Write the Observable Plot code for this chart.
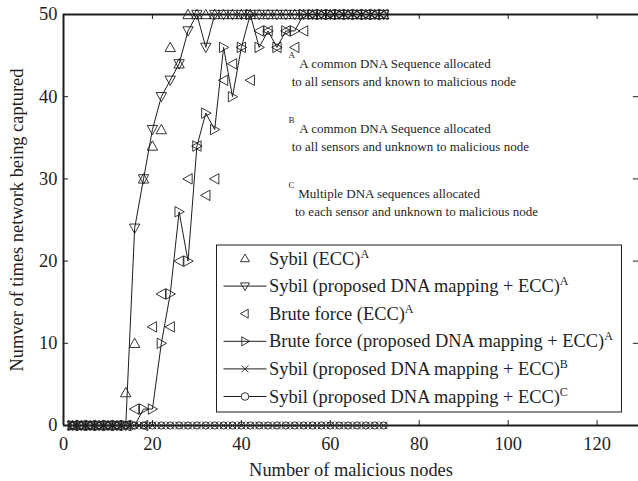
<!DOCTYPE html>
<html><head><meta charset="utf-8">
<script src="https://cdn.jsdelivr.net/npm/d3@7"></script>
<script src="https://cdn.jsdelivr.net/npm/@observablehq/plot@0.6"></script>
<style>
body{margin:0;background:#fff}
#wrap{position:relative;width:638px;height:481px;overflow:hidden}
#over{position:absolute;left:0;top:0;pointer-events:none}
</style>
</head><body><div id="wrap"></div>
<script>
const nodes = [2,4,6,8,10,12,14,16,18,20,22,24,26,28,30,32,34,36,38,40,42,44,46,48,50,52,54,56,58,60,62,64,66,68,70,72];
const sybilEcc  = [0,0,0,0,0,0,4,10,30,34,36,46,44,50,50,50,50,50,50,50,50,50,50,50,50,50,50,50,50,50,50,50,50,50,50,50];
const sybilDna  = [0,0,0,0,0,0,0,24,30,36,40,42,44,48,50,46,50,50,50,50,50,50,50,50,50,50,50,50,50,50,50,50,50,50,50,50];
const bruteEcc  = [0,0,0,0,0,0,0,2,0,12,16,12,20,30,34,28,30,42,44,46,42,48,48,46,48,46,48,50,50,50,50,50,50,50,50,50];
const bruteDna  = [0,0,0,0,0,0,0,0,2,2,10,16,26,20,34,38,36,46,40,46,50,46,48,46,48,48,50,50,50,50,50,50,50,50,50,50];
const sybilDnaB = [0,0,0,0,0,0,0,0,0,0,0,0,0,0,0,0,0,0,0,0,0,0,0,0,0,0,0,0,0,0,0,0,0,0,0,0];
const sybilDnaC = [0,0,0,0,0,0,0,0,0,0,0,0,0,0,0,0,0,0,0,0,0,0,0,0,0,0,0,0,0,0,0,0,0,0,0,0];
const xTicks = [0,20,40,60,80,100,120];
const yTicks = [0,10,20,30,40,50];
const seriesNames = [
  ["Sybil (ECC)","A"],
  ["Sybil (proposed DNA mapping + ECC)","A"],
  ["Brute force (ECC)","A"],
  ["Brute force (proposed DNA mapping + ECC)","A"],
  ["Sybil (proposed DNA mapping + ECC)","B"],
  ["Sybil (proposed DNA mapping + ECC)","C"]
];
const notes = [
  ["A","A common DNA Sequence allocated","to all sensors and known to malicious node"],
  ["B","A common DNA Sequence allocated","to all sensors and unknown to malicious node"],
  ["C","Multiple DNA sequences allocated","to each sensor and unknown to malicious node"]
];

const INK = "#1e1e1e";
const FONT = "Liberation Serif";
const xMax = 129.3;
const rows = ys => nodes.map((x, i) => ({x, y: ys[i]}));

function tri(dir) {
  return {draw(ctx, size) {
    const r = Math.sqrt(size / Math.PI), a = 0.8 * r;
    if (dir === "up") { ctx.moveTo(0, -r); ctx.lineTo(r, a); ctx.lineTo(-r, a); }
    else if (dir === "down") { ctx.moveTo(0, r); ctx.lineTo(r, -a); ctx.lineTo(-r, -a); }
    else if (dir === "left") { ctx.moveTo(-r, 0); ctx.lineTo(a, -r); ctx.lineTo(a, r); }
    else { ctx.moveTo(r, 0); ctx.lineTo(-a, -r); ctx.lineTo(-a, r); }
    ctx.closePath();
  }};
}
const symbols = [tri("up"), tri("down"), tri("left"), tri("right"), "times", "circle"];
const radii = [5.2, 5.2, 5.2, 5.2, 3.6, 3.6];
const hasLine = [false, true, false, true, true, true];
const allSeries = [sybilEcc, sybilDna, bruteEcc, bruteDna, sybilDnaB, sybilDnaC];

const marks = [];
allSeries.forEach((s, k) => {
  if (hasLine[k]) marks.push(Plot.line(rows(s), {x: "x", y: "y", stroke: INK, strokeWidth: 1}));
});
allSeries.forEach((s, k) => {
  marks.push(Plot.dot(rows(s), {x: "x", y: "y", symbol: () => symbols[k], r: radii[k], stroke: INK, strokeWidth: 0.9, fill: "none"}));
});

const chart = Plot.plot({
  width: 638, height: 481,
  marginLeft: 63, marginRight: 0, marginTop: 14, marginBottom: 56,
  style: {fontFamily: FONT, fontSize: "18.4px", color: INK, background: "#fff", overflow: "visible"},
  x: {domain: [0, xMax]},
  y: {domain: [0, 50]},
  marks: [
    Plot.axisX({ticks: xTicks, tickSize: 0, tickPadding: 11, fontSize: 18.4, fontFamily: FONT,
      label: "Number of malicious nodes", labelAnchor: "center", labelOffset: 50, labelArrow: "none"}),
    Plot.axisY({ticks: yTicks, tickSize: 0, tickPadding: 6, fontSize: 18.4, fontFamily: FONT,
      label: "Numver of times network being captured", labelAnchor: "center", labelOffset: 54, labelArrow: "none"}),
    Plot.ruleX(xTicks, {x: d => d, y1: 0, y2: 0.6, stroke: INK, strokeWidth: 1}),
    Plot.ruleX(xTicks, {x: d => d, y1: 50, y2: 49.4, stroke: INK, strokeWidth: 1}),
    Plot.ruleY(yTicks, {y: d => d, x1: 0, x2: 1.15, stroke: INK, strokeWidth: 1}),
    Plot.ruleY(yTicks, {y: d => d, x1: xMax, x2: xMax - 1.15, stroke: INK, strokeWidth: 1}),
    ...marks,
    Plot.ruleY([0, 50], {stroke: INK, strokeWidth: 2}),
    Plot.ruleX([0], {stroke: INK, strokeWidth: 2})
  ]
});
document.getElementById("wrap").appendChild(chart);

// legend & notes overlay
const ns = "http://www.w3.org/2000/svg";
const over = document.createElementNS(ns, "svg");
over.setAttribute("id", "over");
over.setAttribute("width", 638); over.setAttribute("height", 481);
let html = "";
const bx = 216.5, by = 245, bw = 405, bh = 167;
html += `<rect x="${bx}" y="${by}" width="${bw}" height="${bh}" fill="#fff" stroke="${INK}" stroke-width="1"/>`;
const shapes = [
  (cx, cy) => `<path d="M${cx},${cy-4.5}L${cx+4.5},${cy+3.2}L${cx-4.5},${cy+3.2}Z" fill="none" stroke="${INK}" stroke-width="0.9"/>`,
  (cx, cy) => `<path d="M${cx},${cy+4.5}L${cx+4.5},${cy-3.2}L${cx-4.5},${cy-3.2}Z" fill="none" stroke="${INK}" stroke-width="0.9"/>`,
  (cx, cy) => `<path d="M${cx-4.5},${cy}L${cx+3.2},${cy-4.5}L${cx+3.2},${cy+4.5}Z" fill="none" stroke="${INK}" stroke-width="0.9"/>`,
  (cx, cy) => `<path d="M${cx+4.5},${cy}L${cx-3.2},${cy-4.5}L${cx-3.2},${cy+4.5}Z" fill="none" stroke="${INK}" stroke-width="0.9"/>`,
  (cx, cy) => `<path d="M${cx-3.5},${cy-3.5}L${cx+3.5},${cy+3.5}M${cx-3.5},${cy+3.5}L${cx+3.5},${cy-3.5}" stroke="${INK}" stroke-width="0.9"/>`,
  (cx, cy) => `<circle cx="${cx}" cy="${cy}" r="3.8" fill="#fff" stroke="${INK}" stroke-width="0.9"/>`
];
seriesNames.forEach(([name, sup], k) => {
  const cy = by + 13.5 + k * 27.6;
  if (hasLine[k]) html += `<line x1="${bx+7}" x2="${bx+50}" y1="${cy}" y2="${cy}" stroke="${INK}" stroke-width="1"/>`;
  html += shapes[k](bx + 28.5, cy);
  html += `<text x="${bx+52.5}" y="${cy+6}" font-family="${FONT}" font-size="18.4" fill="${INK}">${name}<tspan dy="-7" font-size="12">${sup}</tspan></text>`;
});
const noteY = [63.3, 128.3, 193.3];
notes.forEach(([sup, l1, l2], k) => {
  const cy = noteY[k];
  html += `<text x="288.5" y="${cy-5}" font-family="${FONT}" font-size="9" fill="${INK}">${sup}</text>`;
  html += `<text x="${k===2?298.3:299.3}" y="${cy+4.5}" font-family="${FONT}" font-size="13" fill="${INK}">${l1}</text>`;
  html += `<text x="${k===2?295:291.7}" y="${cy+22.2}" font-family="${FONT}" font-size="13" fill="${INK}">${l2}</text>`;
});
over.innerHTML = html;
document.getElementById("wrap").appendChild(over);
</script>
</body></html>
